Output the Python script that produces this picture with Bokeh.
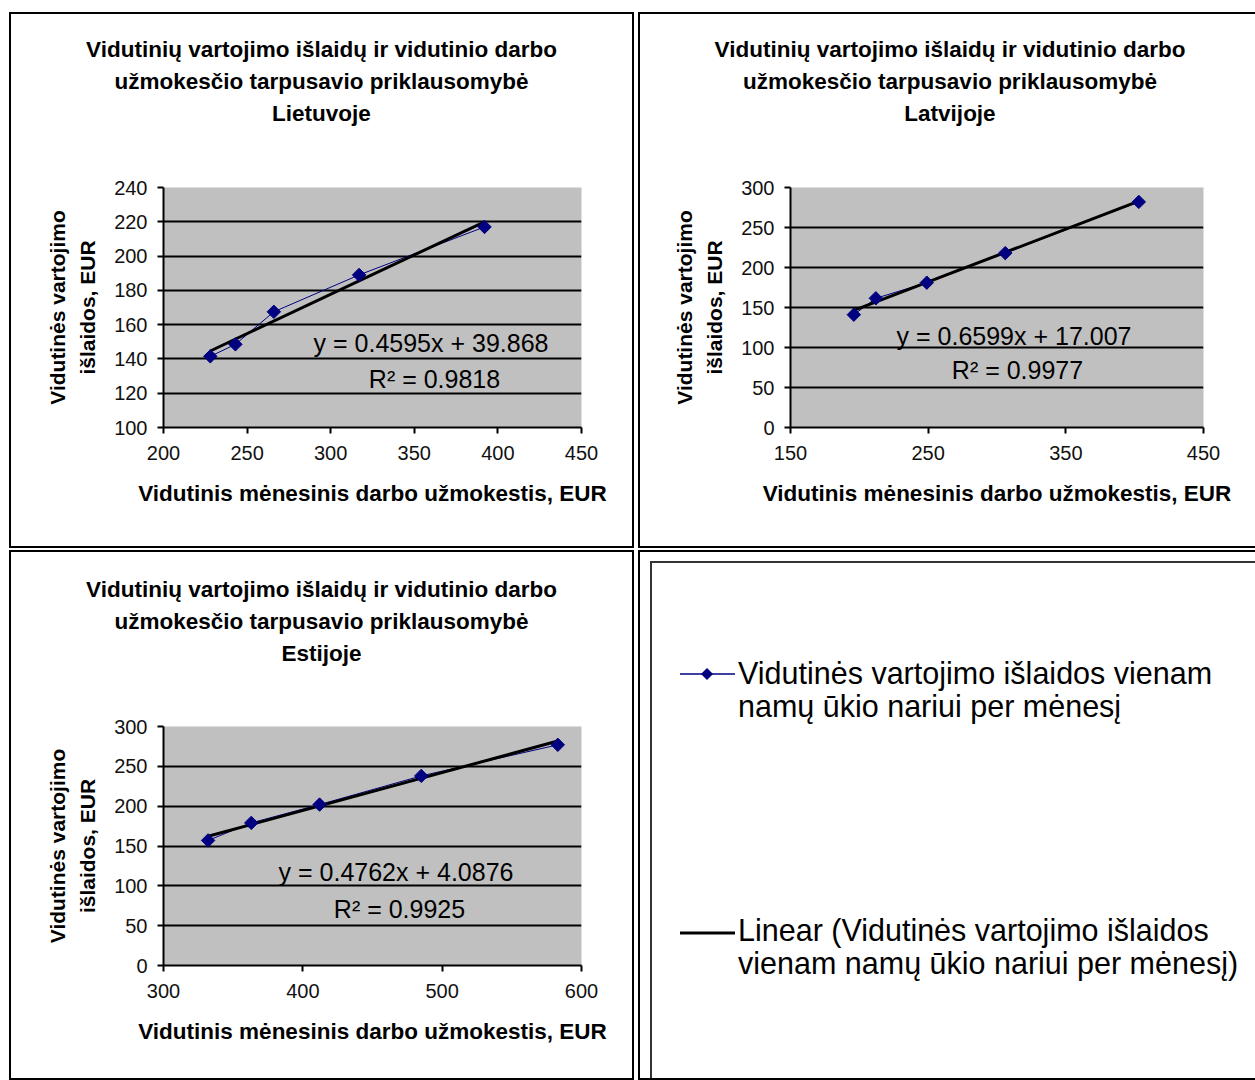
import numpy as np
from bokeh.plotting import figure
from bokeh.models import Range1d, FixedTicker, Label, Spacer, Div
from bokeh.layouts import row, column
from bokeh.embed import file_html
from bokeh.resources import INLINE

# ---------------- data ----------------
lt_wage = [228, 243, 266, 317, 392]
lt_spend = [141.5, 148.5, 167.5, 189, 217]
lv_wage = [196, 212, 249, 306, 403]
lv_spend = [141, 161.5, 181, 218, 282]
ee_wage = [332, 363, 412, 485, 583]
ee_spend = [157, 179, 202, 238, 277]

trend_slope = [0.4595, 0.6599, 0.4762]
trend_intercept = [39.868, 17.007, 4.0876]
r_squared = [0.9818, 0.9977, 0.9925]

lt_xticks = [200, 250, 300, 350, 400, 450]
lt_yticks = [100, 120, 140, 160, 180, 200, 220, 240]
lv_xticks = [150, 250, 350, 450]
lv_yticks = [0, 50, 100, 150, 200, 250, 300]
ee_xticks = [300, 400, 500, 600]
ee_yticks = [0, 50, 100, 150, 200, 250, 300]

countries = ["Lietuvoje", "Latvijoje", "Estijoje"]
title_lines = ["Vidutinių vartojimo išlaidų ir vidutinio darbo",
               "užmokesčio tarpusavio priklausomybė"]
x_title = "Vidutinis mėnesinis darbo užmokestis, EUR"
y_title_lines = ["Vidutinės vartojimo", "išlaidos, EUR"]
legend_series = ["Vidutinės vartojimo išlaidos vienam", "namų ūkio nariui per mėnesį"]
legend_trend = ["Linear (Vidutinės vartojimo išlaidos", "vienam namų ūkio nariui per mėnesį)"]

# ---------------- style ----------------
FONT = "Liberation Sans"
NAVY = "#000080"
PLOT_BG = "#c0c0c0"
LINE = "2px solid #000000"
TITLE_H = 150


def make_panel(wage, spend, slope, intercept, r2, xticks, yticks, country, geo):
    W, H, fl, fr, ft, fb = geo["size"]
    right_border = {} if geo["right_border"] else {"border-right": "none"}
    # ---- title block (top part of the bordered panel)
    head = Div(
        text=(f"<div style=\"width:{W - 4}px;padding-top:{geo['title_pad']}px;"
              f"padding-left:{geo['title_shift']}px;box-sizing:border-box;"
              f"text-align:center;font-family:'{FONT}';font-weight:bold;font-size:22.5px;"
              f"line-height:32px;color:#000;white-space:nowrap;\">"
              + "<br>".join(title_lines + [country]) + "</div>"),
        width=W, height=TITLE_H, margin=(0, 0, 0, 0),
        styles={"border": LINE, "border-bottom": "none", "box-sizing": "border-box",
                "background": "#ffffff", "overflow": "hidden", **right_border})

    # ---- chart
    p = figure(width=W, height=H - TITLE_H, title=None, toolbar_location=None,
               output_backend="svg",
               x_range=Range1d(xticks[0], xticks[-1]),
               y_range=Range1d(yticks[0], yticks[-1]),
               min_border_left=fl, min_border_right=fr,
               min_border_top=ft, min_border_bottom=fb)
    p.styles = {"border": LINE, "border-top": "none", "box-sizing": "border-box",
                **right_border}
    p.background_fill_color = PLOT_BG
    p.border_fill_color = "white"
    p.outline_line_color = None

    p.xgrid.visible = False
    p.ygrid.ticker = FixedTicker(ticks=yticks[1:-1])
    p.ygrid.grid_line_color = "black"
    p.ygrid.grid_line_width = 2

    for ax, ticks, standoff in ((p.xaxis[0], xticks, 12), (p.yaxis[0], yticks, 10)):
        ax.ticker = FixedTicker(ticks=ticks)
        ax.axis_line_color = "black"
        ax.axis_line_width = 2
        ax.major_tick_line_color = "black"
        ax.major_tick_line_width = 2
        ax.major_tick_out = 6
        ax.major_tick_in = 0
        ax.minor_tick_line_color = None
        ax.major_label_text_font = FONT
        ax.major_label_text_font_size = "20px"
        ax.major_label_text_color = "#111111"
        ax.major_label_standoff = standoff
        ax.axis_label_text_font = FONT
        ax.axis_label_text_font_style = "bold"
        ax.axis_label_text_color = "black"

    # axis titles
    xa = p.xaxis[0]
    xa.axis_label = x_title
    xa.axis_label_text_font_size = "22.5px"
    xa.axis_label_standoff = 18

    ya = p.yaxis[0]
    ya.axis_label = "\n".join(y_title_lines)
    ya.axis_label_text_font_size = "21px"
    ya.axis_label_text_align = "center"
    ya.axis_label_text_line_height = 1.3
    ya.axis_label_standoff = 12

    # series line + trendline + markers
    p.line(wage, spend, line_color=NAVY, line_width=1)
    tx = np.array([min(wage), max(wage)], dtype=float)
    p.line(tx, slope * tx + intercept, line_color="black", line_width=3)
    p.scatter(wage, spend, marker="square", angle=np.pi / 4, size=9.5,
              fill_color=NAVY, line_color=NAVY)

    # trendline equation
    for yy, t in zip(geo["eq_ys"], [f"y = {slope}x  + {intercept}", f"R² = {r2}"]):
        p.add_layout(Label(x=geo["eq_x"], y=yy, x_units="screen", y_units="screen", text=t,
                           text_font=FONT, text_font_size="25px",
                           text_align="center", text_baseline="middle",
                           text_color="black"))
    return column(head, p, spacing=0)


# size = (outer width, outer height, frame left, right border, top border, bottom border)
geo_lt = dict(size=(625, 536, 152, 55, 25, 121), title_pad=20, title_shift=0,
              eq_x=271, eq_ys=[85, 49], right_border=True)
geo_lv = dict(size=(617, 536, 150, 54, 25, 121), title_pad=20, title_shift=7,
              eq_x=227, eq_ys=[92, 58], right_border=False)
geo_ee = dict(size=(625, 530, 152, 55, 26, 115), title_pad=22, title_shift=0,
              eq_x=236, eq_ys=[94, 57], right_border=True)

p_lt = make_panel(lt_wage, lt_spend, trend_slope[0], trend_intercept[0], r_squared[0],
                  lt_xticks, lt_yticks, countries[0], geo_lt)
p_lv = make_panel(lv_wage, lv_spend, trend_slope[1], trend_intercept[1], r_squared[1],
                  lv_xticks, lv_yticks, countries[1], geo_lv)
p_ee = make_panel(ee_wage, ee_spend, trend_slope[2], trend_intercept[2], r_squared[2],
                  ee_xticks, ee_yticks, countries[2], geo_ee)

# ---------------- legend panel (HTML) ----------------
LW, LH = 617, 530
txt_css = (f"position:absolute;left:98px;font-family:'{FONT}';font-size:30.5px;"
           "line-height:33px;color:#000;white-space:nowrap;margin:0;")
legend_html = f"""
<div style="position:relative;width:{LW - 2}px;height:{LH - 4}px;overflow:hidden;background:#fff;">
  <div style="position:absolute;left:10px;top:9px;width:{LW}px;height:{LH}px;
              border-left:2px solid #333;border-top:2px solid #333;"></div>
  <svg style="position:absolute;left:0;top:0;" width="{LW - 2}" height="{LH - 4}">
    <line x1="40" y1="122" x2="95" y2="122" stroke="{NAVY}" stroke-width="1.5"/>
    <polygon points="67,116 73,122 67,128 61,122" fill="{NAVY}"/>
    <line x1="40" y1="381" x2="95" y2="381" stroke="#000" stroke-width="3"/>
  </svg>
  <div style="{txt_css}top:105px;">{legend_series[0]}<br>{legend_series[1]}</div>
  <div style="{txt_css}top:362px;">{legend_trend[0]}<br>{legend_trend[1]}</div>
</div>
"""
lg = Div(text=legend_html, width=LW, height=LH, margin=(0, 0, 0, 0),
         styles={"border": LINE, "border-right": "none", "box-sizing": "border-box",
                 "overflow": "hidden"})

layout = column(
    Spacer(height=12),
    row(Spacer(width=9), p_lt, Spacer(width=4), p_lv),
    Spacer(height=2),
    row(Spacer(width=9), p_ee, Spacer(width=4), lg),
)

open("out.html", "w").write(file_html(layout, INLINE))
